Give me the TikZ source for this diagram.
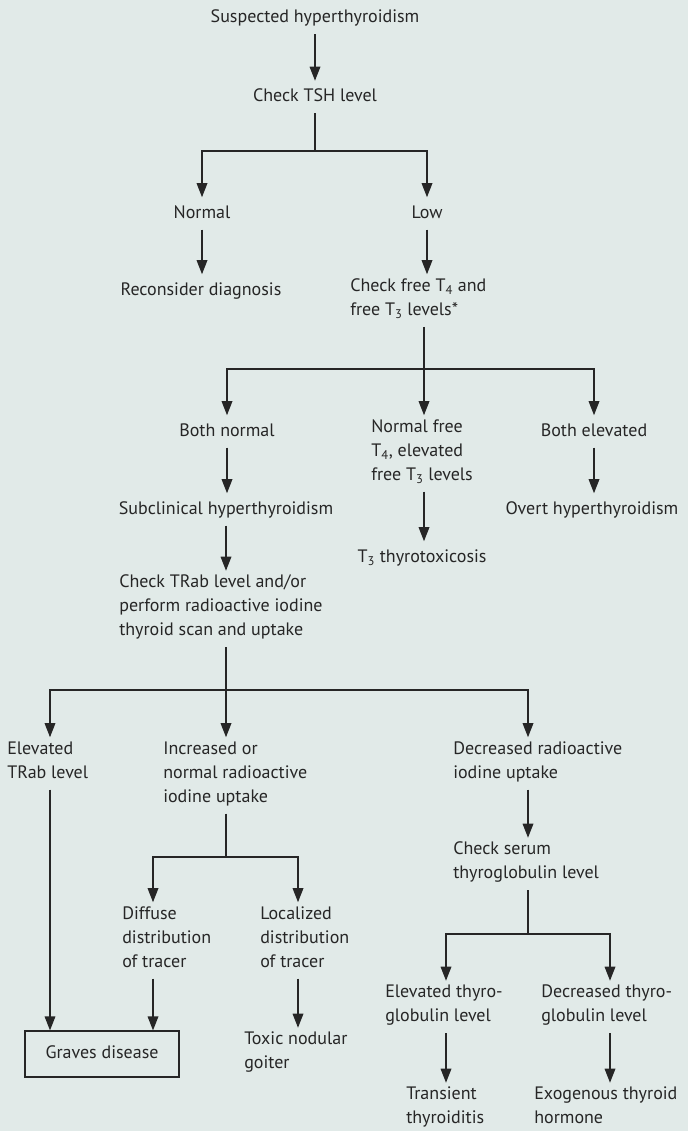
\documentclass[tikz,border=0pt]{standalone}
\usepackage{fontspec}
\setmainfont{PT Sans}
\usetikzlibrary{arrows.meta}

\definecolor{panel}{RGB}{225,234,232}
\definecolor{ink}{RGB}{38,38,38}

\tikzset{
  txt/.style={font=\fontsize{13.5pt}{18pt}\selectfont, text=ink, align=left,
    inner xsep=0pt, inner ysep=3pt,
    execute at begin node=\strut, execute at end node=\strut},
  link/.style={draw=ink, line width=0.9pt},
  arr/.style={link, -{Triangle[length=10.5pt,width=8pt]}},
  result/.style={txt, draw=ink, line width=0.9pt, align=center,
    minimum width=115.5pt, minimum height=34.5pt, inner sep=0pt}
}

\begin{document}
\begin{tikzpicture}[x=0.75pt,y=-0.75pt]
\path[use as bounding box, fill=panel] (0,0) rectangle (688,1131);

% top part
\node[txt, anchor=north] (susp) at (315,1.7) {Suspected hyperthyroidism};
\node[txt, anchor=north] (tsh) at (315,80.7) {Check TSH level};
\node[txt, anchor=north] (normal) at (202,197.2) {Normal};
\node[txt, anchor=north] (low) at (427,197.2) {Low};
\node[txt, anchor=north] (recon) at (201,274.2) {Reconsider diagnosis};
\node[txt, anchor=north west] (free) at (350,274.2) {Check free T\textsubscript{4} and\\free T\textsubscript{3} levels*};

% free T4 / T3 results
\node[txt, anchor=north] (bn) at (227,415.2) {Both normal};
\node[txt, anchor=north west] (nf) at (371,415.2) {Normal free\\T\textsubscript{4}, elevated\\free T\textsubscript{3} levels};
\node[txt, anchor=north] (be) at (594,415.2) {Both elevated};
\node[txt, anchor=north] (sub) at (226,493.2) {Subclinical hyperthyroidism};
\node[txt, anchor=north] (overt) at (592,493.2) {Overt hyperthyroidism};
\node[txt, anchor=north] (t3) at (422,541.2) {T\textsubscript{3} thyrotoxicosis};
\node[txt, anchor=north west] (trab) at (119,570.7) {Check TRab level and/or\\perform radioactive iodine\\thyroid scan and uptake};

% scan / uptake results
\node[txt, anchor=north west] (etrab) at (7,737.2) {Elevated\\TRab level};
\node[txt, anchor=north west] (incr) at (163,737.2) {Increased or\\normal radioactive\\iodine uptake};
\node[txt, anchor=north west] (decr) at (453,737.2) {Decreased radioactive\\iodine uptake};
\node[txt, anchor=north west] (serum) at (453,837.7) {Check serum\\thyroglobulin level};
\node[txt, anchor=north west] (diff) at (122,902.2) {Diffuse\\distribution\\of tracer};
\node[txt, anchor=north west] (loc) at (260,902.2) {Localized\\distribution\\of tracer};
\node[txt, anchor=north west] (etg) at (385,980.7) {Elevated thyro-\\globulin level};
\node[txt, anchor=north west] (dtg) at (541,980.7) {Decreased thyro-\\globulin level};
\node[result] (graves) at (102,1054) {Graves disease};
\node[txt, anchor=north west] (toxic) at (244,1027.7) {Toxic nodular\\goiter};
\node[txt, anchor=north west] (trans) at (406,1082.7) {Transient\\thyroiditis};
\node[txt, anchor=north west] (exo) at (534,1082.7) {Exogenous thyroid\\hormone};

% branch points
\coordinate (fa) at (315,151);
\coordinate (fb) at (424,369);
\coordinate (fc) at (226,690);
\coordinate (fcl) at (50,690);
\coordinate (fcr) at (528,690);
\coordinate (fd) at (226,857);
\coordinate (fdl) at (153,857);
\coordinate (fdr) at (298,857);
\coordinate (fe) at (528,934);
\coordinate (fel) at (446,934);
\coordinate (fer) at (610,934);

\draw[arr] (susp) -- (tsh);
\draw[link] (tsh) -- (fa);
\draw[arr] (fa) -| (normal);
\draw[arr] (fa) -| (low);
\draw[arr] (normal) -- (recon.north -| normal);
\draw[arr] (low) -- (free.north -| low);

\draw[link] (free.south -| fb) -- (fb);
\draw[arr] (fb) -| (bn);
\draw[arr] (fb) -- (nf.north -| fb);
\draw[arr] (fb) -| (be);
\draw[arr] (bn) -- (sub.north -| bn);
\draw[arr] (nf.south -| fb) -- (t3.north -| fb);
\draw[arr] (be) -- (overt.north -| be);
\draw[arr] (sub) -- (trab.north -| sub);

\draw[link] (trab.south -| fc) -- (fc);
\draw[arr] (fc) -| (etrab.north -| fcl);
\draw[arr] (fc) -- (incr.north -| fc);
\draw[arr] (fc) -| (decr.north -| fcr);
\draw[arr] (etrab.south -| fcl) -- (graves.north -| fcl);

\draw[link] (incr.south -| fd) -- (fd);
\draw[arr] (fd) -| (diff.north -| fdl);
\draw[arr] (fd) -| (loc.north -| fdr);
\draw[arr] (diff.south -| fdl) -- (graves.north -| fdl);
\draw[arr] (loc.south -| fdr) -- (toxic.north -| fdr);

\draw[arr] (decr.south -| fcr) -- (serum.north -| fcr);
\draw[link] (serum.south -| fe) -- (fe);
\draw[arr] (fe) -| (etg.north -| fel);
\draw[arr] (fe) -| (dtg.north -| fer);
\draw[arr] (etg.south -| fel) -- (trans.north -| fel);
\draw[arr] (dtg.south -| fer) -- (exo.north -| fer);
\end{tikzpicture}
\end{document}
